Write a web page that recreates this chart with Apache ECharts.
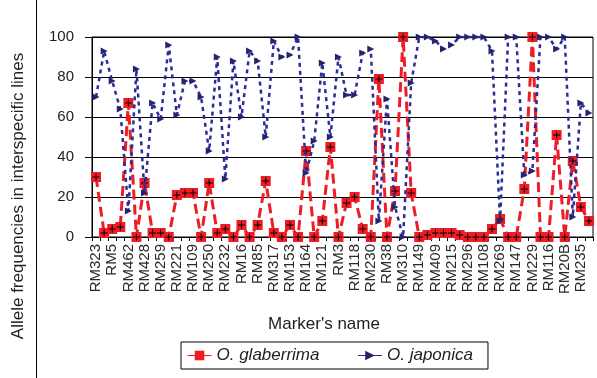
<!DOCTYPE html>
<html>
<head>
<meta charset="utf-8">
<script src="https://cdn.jsdelivr.net/npm/echarts@6/dist/echarts.min.js"></script>
<style>html,body{margin:0;padding:0;background:#fff}#c{width:597px;height:378px}</style>
</head>
<body>
<div id="c"></div>
<script>
// Labelled markers (every other category is labelled on the axis)
var labelledMarkers = ['RM323','RM5','RM462','RM428','RM259','RM221','RM109','RM250','RM232','RM16','RM85','RM317','RM153','RM164','RM121','RM3','RM118','RM230','RM38','RM310','RM149','RM409','RM215','RM296','RM108','RM269','RM147','RM229','RM116','RM20B','RM235'];
// O. glaberrima allele frequency (%)
var glaberrima = [30,2,4,5,67,0,27,2,2,0,21,22,22,0,27,2,4,0,6,0,6,28,2,0,6,0,43,0,8,45,0,17,20,4,0,79,0,23,100,22,0,1,2,2,2,1,0,0,0,4,9,0,0,24,100,0,0,51,0,38,15,8];
// O. japonica allele frequency (%)
var japonica = [70,93,78,64,13,84,22,67,59,96,61,78,78,70,43,90,29,88,60,93,88,50,98,90,91,100,32,48,87,50,90,71,71,92,94,8,69,15,0,77,100,100,98,94,96,100,100,100,100,93,8,100,100,31,33,100,100,94,100,10,67,62];
var yTicks = [0,20,40,60,80,100];

var categories = [];
for (var i = 0; i < glaberrima.length; i++) {
  categories.push(i % 2 === 0 ? (labelledMarkers[i/2] || '') : '');
}

var FONT = 'Liberation Sans, Arial, sans-serif';
var chart = echarts.init(document.getElementById('c'), null, {renderer: 'canvas'});
chart.setOption({
  animation: false,
  backgroundColor: '#fff',
  grid: {left: 92, right: 4, top: 37, bottom: 141, show: true, borderColor: '#000', borderWidth: 1, backgroundColor: 'transparent'},
  xAxis: {
    type: 'category', data: categories, boundaryGap: true,
    axisLine: {lineStyle: {color: '#000', width: 1}},
    axisTick: {show: true, interval: 0, length: 4, lineStyle: {color: '#000'}},
    axisLabel: {interval: 0, rotate: 90, margin: 7, fontFamily: FONT, fontSize: 15, color: '#2a2a2a'},
    splitLine: {show: false}
  },
  yAxis: {
    type: 'value', min: yTicks[0], max: yTicks[yTicks.length-1], interval: 20,
    axisLine: {show: true, lineStyle: {color: '#000', width: 1}},
    axisTick: {show: true, length: 7, lineStyle: {color: '#000'}},
    axisLabel: {margin: 18, fontFamily: FONT, fontSize: 15, color: '#222'},
    splitLine: {show: true, lineStyle: {color: '#000', width: 1}}
  },
  legend: {
    left: 181, top: 342, orient: 'horizontal',
    borderColor: '#000', borderWidth: 1, padding: [5, 15, 5, 6],
    itemWidth: 24, itemHeight: 12, itemGap: 38,
    lineStyle: {type: 'solid', width: 1},
    textStyle: {fontFamily: FONT, fontSize: 17, fontStyle: 'italic', color: '#222'},
    data: ['O. glaberrima', 'O. japonica']
  },
  graphic: [
    {type: 'text', x: 18, y: 196, rotation: Math.PI/2,
     style: {text: 'Allele frequencies in interspecific lines', font: '17px ' + FONT, fill: '#222', textAlign: 'center', textVerticalAlign: 'middle'}},
    {type: 'text', x: 324, y: 324,
     style: {text: "Marker's name", font: '17px ' + FONT, fill: '#222', textAlign: 'center', textVerticalAlign: 'middle'}},
    {type: 'line', shape: {x1: 36.5, y1: 0, x2: 36.5, y2: 378}, style: {stroke: '#000', lineWidth: 1}}
  ],
  series: [
    {name: 'O. glaberrima', type: 'line', data: glaberrima, z: 3,
     symbol: 'rect', symbolSize: 10, showAllSymbol: true,
     itemStyle: {color: '#ee1c25'},
     lineStyle: {color: '#ee1c25', width: 3, type: [10, 5]}},
    {name: 'glab-cross', type: 'line', data: glaberrima, z: 4, silent: true,
     symbol: 'path://M0,3h7v1h-7z M3,0h1v7h-1z', symbolSize: 7, showAllSymbol: true,
     itemStyle: {color: '#000'}, lineStyle: {width: 0, opacity: 0}},
    {name: 'O. japonica', type: 'line', data: japonica, z: 5,
     symbol: 'triangle', symbolSize: 7, symbolRotate: -90, showAllSymbol: true,
     itemStyle: {color: '#24246e'},
     lineStyle: {color: '#2b2b9a', width: 2.5, type: [4, 4]}}
  ]
});
</script>
</body>
</html>
